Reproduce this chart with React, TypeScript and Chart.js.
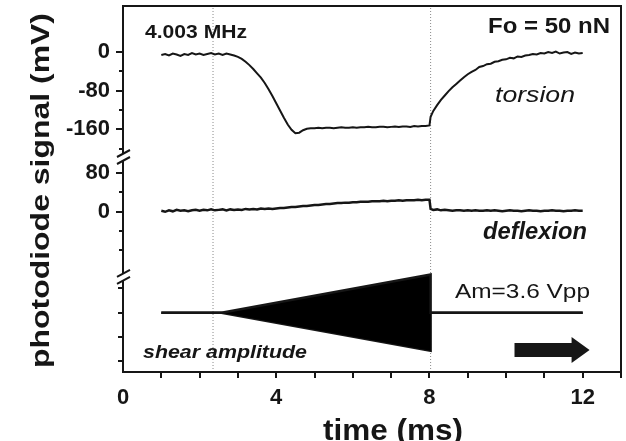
import React, { useEffect, useRef } from "react";
import { Chart, registerables } from "chart.js";

Chart.register(...registerables);

// ---------- data ----------
const TIME_MS = [
  1.0, 1.1, 1.2, 1.3, 1.4, 1.5, 1.6, 1.7, 1.8, 1.9,
  2.0, 2.1, 2.2, 2.3, 2.4, 2.5, 2.6, 2.7, 2.8, 2.9,
  3.0, 3.1, 3.2, 3.3, 3.4, 3.5, 3.6, 3.7, 3.8, 3.9,
  4.0, 4.1, 4.2, 4.3, 4.4, 4.5, 4.6, 4.7, 4.8, 4.9,
  5.0, 5.1, 5.2, 5.3, 5.4, 5.5, 5.6, 5.7, 5.8, 5.9,
  6.0, 6.1, 6.2, 6.3, 6.4, 6.5, 6.6, 6.7, 6.8, 6.9,
  7.0, 7.1, 7.2, 7.3, 7.4, 7.5, 7.6, 7.7, 7.8, 7.9,
  8.0, 8.03,
  8.1, 8.2, 8.3, 8.4, 8.5, 8.6, 8.7, 8.8, 8.9,
  9.0, 9.1, 9.2, 9.3, 9.4, 9.5, 9.6, 9.7, 9.8, 9.9,
  10.0, 10.1, 10.2, 10.3, 10.4, 10.5, 10.6, 10.7, 10.8, 10.9,
  11.0, 11.1, 11.2, 11.3, 11.4, 11.5, 11.6, 11.7, 11.8, 11.9,
  12.0,
];

const TORSION_MV = [
  -6, -4, -7, -3, -5, -8, -4, -6, -2, -5,
  -3, -6, -4, -2, -5, -3, -6, -3, -5, -7,
  -10, -14, -20, -27, -35, -44, -53, -64, -77, -91,
  -106, -121, -136, -150, -161, -168, -167, -162, -159, -158,
  -158, -157, -158, -157, -157, -158, -157, -156, -157, -157,
  -156, -157, -156, -156, -155, -156, -156, -155, -155, -156,
  -155, -154, -155, -154, -154, -155, -153, -154, -153, -153,
  -152, -134,
  -122, -110, -99, -90, -81, -73, -66, -59, -52,
  -46, -41, -37, -31, -29, -25, -24, -20, -19, -16,
  -15, -12, -13, -9, -10, -7, -6, -4, -5, -2,
  -3, 0, -2, 1, -3, -1, 0, -4, -1, -3,
  -2,
];

const DEFLEXION_MV = [
  2, 0, 3, 1, 4, 2, 3, 1, 3, 4,
  2, 4, 3, 5, 3, 4, 5, 3, 5, 4,
  5, 4, 6, 5, 6, 5, 7, 6, 7, 6,
  7, 8, 8, 9, 10, 10, 11, 12, 12, 13,
  14, 14, 15, 16, 16, 17, 18, 18, 19, 19,
  20, 20, 21, 21, 21, 22, 22, 22, 23, 22,
  23, 23, 24, 23, 24, 24, 24, 25, 24, 25,
  25, 6,
  4, 5, 3, 4, 3, 2, 3, 3, 2,
  3, 2, 3, 2, 2, 3, 2, 3, 2, 1,
  2, 3, 2, 2, 1, 2, 3, 2, 2, 1,
  2, 2, 3, 2, 2, 1, 2, 2, 3, 2,
  2,
];

// shear excitation envelope (peak volts, Am = 3.6 Vpp)
const SHEAR_TIME_MS = [1.0, 2.57, 8.03, 8.03, 12.0];
const SHEAR_ENVELOPE_V = [0, 0, 1.8, 0, 0];

// dotted marker lines (ms)
const MARKER_TIMES_MS = [2.35, 8.03];

// axis ticks
const X_TICK_LABELS = [0, 4, 8, 12];
const TORSION_TICKS = [0, -40, -80, -120, -160, -200];
const TORSION_LABELS = [0, -80, -160];
const DEFLEXION_TICKS = [80, 40, 0, -40, -80];
const DEFLEXION_LABELS = [80, 0];
const SHEAR_TICKS_V = [1.15, 0, -1.15, -2.3];

// ---------- broken-axis layout (display units = mV on one shared axis) ----------
const Y_MAX = 758.5;
const TORSION_ZERO = 663;
const DEFLEXION_ZERO = 332;
const SHEAR_ZERO = 123;
const SHEAR_UNITS_PER_V = 43.8;
const Y_BREAKS = [443.5, 195];
const X_MIN = 0;
const X_MAX = 13;

const INK = "#161616";
const FONT = "'Liberation Sans', Arial, Helvetica, sans-serif";

type Tick = { value: number; label: string; len: number };
const Y_TICKS: Tick[] = [
  ...TORSION_TICKS.map((v) => ({
    value: TORSION_ZERO + v,
    label: TORSION_LABELS.includes(v) ? String(v) : "",
    len: TORSION_LABELS.includes(v) ? 7 : 4,
  })),
  ...DEFLEXION_TICKS.map((v) => ({
    value: DEFLEXION_ZERO + v,
    label: DEFLEXION_LABELS.includes(v) ? String(v) : "",
    len: DEFLEXION_LABELS.includes(v) ? 7 : 4,
  })),
  ...SHEAR_TICKS_V.map((v) => ({
    value: SHEAR_ZERO + v * SHEAR_UNITS_PER_V,
    label: "",
    len: 5,
  })),
];

type Txt = { text: string; x: number; y: number; font: string; width: number };
const TEXTS: Txt[] = [
  { text: "4.003 MHz", x: 145, y: 38, font: `bold 18px ${FONT}`, width: 102 },
  { text: "Fo = 50 nN", x: 488, y: 33, font: `bold 22px ${FONT}`, width: 122 },
  { text: "torsion", x: 495, y: 102, font: `italic 22px ${FONT}`, width: 80 },
  { text: "deflexion", x: 483, y: 239, font: `italic bold 23px ${FONT}`, width: 104 },
  { text: "Am=3.6 Vpp", x: 455, y: 298, font: `21px ${FONT}`, width: 135 },
  { text: "shear amplitude", x: 143, y: 358, font: `italic bold 19px ${FONT}`, width: 164 },
  { text: "time (ms)", x: 323, y: 440, font: `bold 30px ${FONT}`, width: 140 },
];

const Y_TITLE = "photodiode signal (mV)";

const zeroPadding = (s: any) => {
  s.paddingTop = 0;
  s.paddingBottom = 0;
  s.paddingLeft = 0;
  s.paddingRight = 0;
};

const decorPlugin = {
  id: "decor",
  afterDraw(chart: any) {
    const { ctx, chartArea: a, scales } = chart;
    const xs = scales.x;
    const ys = scales.y;
    ctx.save();
    ctx.strokeStyle = INK;
    ctx.fillStyle = INK;
    ctx.lineWidth = 2;
    ctx.lineCap = "butt";
    // frame
    ctx.strokeRect(a.left, a.top, a.right - a.left, a.bottom - a.top);
    // y tick marks
    for (const t of Y_TICKS) {
      const py = Math.round(ys.getPixelForValue(t.value));
      ctx.beginPath();
      ctx.moveTo(a.left - t.len, py);
      ctx.lineTo(a.left, py);
      ctx.stroke();
    }
    // x tick marks
    for (let v = X_MIN + 1; v <= X_MAX; v++) {
      const px = Math.round(xs.getPixelForValue(v));
      ctx.beginPath();
      ctx.moveTo(px, a.bottom);
      ctx.lineTo(px, a.bottom + 6);
      ctx.stroke();
    }
    // axis breaks
    for (const b of Y_BREAKS) {
      const py = ys.getPixelForValue(b);
      ctx.fillStyle = "#ffffff";
      ctx.fillRect(a.left - 2, py - 4, 4, 7);
      ctx.fillStyle = INK;
      ctx.beginPath();
      ctx.moveTo(a.left - 6, py - 1);
      ctx.lineTo(a.left + 7, py - 8);
      ctx.moveTo(a.left - 6, py + 6);
      ctx.lineTo(a.left + 7, py - 1);
      ctx.stroke();
    }
    // arrow
    const ax0 = xs.getPixelForValue(10.22);
    const ax1 = xs.getPixelForValue(11.71);
    const ax2 = xs.getPixelForValue(12.18);
    const ay = ys.getPixelForValue(45.6);
    ctx.beginPath();
    ctx.moveTo(ax0, ay - 7);
    ctx.lineTo(ax1, ay - 7);
    ctx.lineTo(ax1, ay - 13);
    ctx.lineTo(ax2, ay);
    ctx.lineTo(ax1, ay + 13);
    ctx.lineTo(ax1, ay + 7);
    ctx.lineTo(ax0, ay + 7);
    ctx.closePath();
    ctx.fill();
    // texts
    ctx.textAlign = "left";
    ctx.textBaseline = "alphabetic";
    for (const t of TEXTS) {
      ctx.font = t.font;
      const w = ctx.measureText(t.text).width;
      ctx.save();
      ctx.translate(t.x, t.y);
      ctx.scale(t.width / w, 1);
      ctx.fillText(t.text, 0, 0);
      ctx.restore();
    }
    // y title
    ctx.font = `bold 26px ${FONT}`;
    const tw = ctx.measureText(Y_TITLE).width;
    ctx.save();
    ctx.translate(49, 368);
    ctx.rotate(-Math.PI / 2);
    ctx.scale(355 / tw, 1);
    ctx.fillText(Y_TITLE, 0, 0);
    ctx.restore();
    ctx.restore();
  },
};

function App() {
  const ref = useRef<HTMLCanvasElement>(null);
  useEffect(() => {
    document.body.style.margin = "0";
    const torsion = TIME_MS.map((t, i) => ({ x: t, y: TORSION_ZERO + TORSION_MV[i] }));
    const deflexion = TIME_MS.map((t, i) => ({ x: t, y: DEFLEXION_ZERO + DEFLEXION_MV[i] }));
    const shearUpper = SHEAR_TIME_MS.map((t, i) => ({ x: t, y: SHEAR_ZERO + SHEAR_ENVELOPE_V[i] * SHEAR_UNITS_PER_V }));
    const shearLower = SHEAR_TIME_MS.map((t, i) => ({ x: t, y: SHEAR_ZERO - SHEAR_ENVELOPE_V[i] * SHEAR_UNITS_PER_V }));
    const markers = MARKER_TIMES_MS.map((t) => ({
      label: "marker",
      data: [{ x: t, y: 0 }, { x: t, y: Y_MAX }],
      borderColor: "#8a8a8a",
      borderWidth: 1,
      borderDash: [1, 2],
      pointRadius: 0,
      fill: false,
      order: 10,
    }));
    const lineBase = { pointRadius: 0, tension: 0, borderColor: INK, fill: false, order: 1 };
    const chart = new Chart(ref.current as HTMLCanvasElement, {
      type: "line",
      data: {
        datasets: [
          { ...lineBase, label: "torsion", data: torsion, borderWidth: 2 },
          { ...lineBase, label: "deflexion", data: deflexion, borderWidth: 2.5 },
          { ...lineBase, label: "shear upper", data: shearUpper, borderWidth: 2.5, fill: "+1", backgroundColor: "#000000" },
          { ...lineBase, label: "shear lower", data: shearLower, borderWidth: 2.5 },
          ...markers,
        ] as any,
      },
      options: {
        animation: false,
        responsive: false,
        devicePixelRatio: 1,
        layout: { padding: { top: 6, right: 5, left: 0, bottom: 0 } },
        plugins: { legend: { display: false }, tooltip: { enabled: false } },
        scales: {
          x: {
            type: "linear",
            min: X_MIN,
            max: X_MAX,
            grid: { display: false, drawTicks: false },
            border: { display: false },
            ticks: {
              stepSize: 1,
              autoSkip: false,
              maxRotation: 0,
              padding: 13,
              color: INK,
              font: { family: FONT, size: 22, weight: "bold" },
              callback: (v: any) => (X_TICK_LABELS.includes(Number(v)) ? String(v) : ""),
            },
            afterFit: (s: any) => {
              s.height = 69;
              zeroPadding(s);
            },
          },
          y: {
            type: "linear",
            min: 0,
            max: Y_MAX,
            grid: { display: false, drawTicks: false },
            border: { display: false },
            afterBuildTicks: (s: any) => {
              s.ticks = Y_TICKS.map((t) => ({ value: t.value }));
            },
            ticks: {
              autoSkip: false,
              padding: 13,
              color: INK,
              font: { family: FONT, size: 22, weight: "bold" },
              callback: (v: any) => {
                const t = Y_TICKS.find((k) => Math.abs(k.value - Number(v)) < 0.01);
                return t ? t.label : "";
              },
            },
            afterFit: (s: any) => {
              s.width = 123;
              zeroPadding(s);
            },
          },
        },
      } as any,
      plugins: [decorPlugin],
    });
    return () => chart.destroy();
  }, []);
  return (
    <div style={{ width: 626, height: 441, background: "#fff" }}>
      <canvas ref={ref} width={626} height={441} style={{ display: "block" }} />
    </div>
  );
}

export default App;
